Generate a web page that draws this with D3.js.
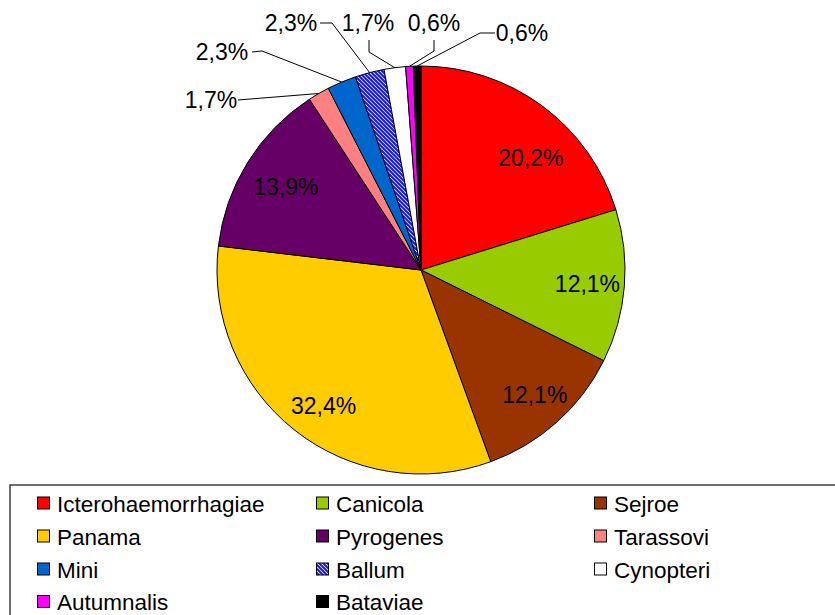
<!DOCTYPE html>
<html>
<head>
<meta charset="utf-8">
<script src="https://cdn.jsdelivr.net/npm/d3@7/dist/d3.min.js"></script>
<style>
  html, body { margin: 0; padding: 0; background: #fff; }
  svg { display: block; font-family: "Liberation Sans", Arial, sans-serif; }
</style>
</head>
<body>
<svg id="chart" width="835" height="615"></svg>
<script>
// Serovar shares (%)
const serovars = ["Icterohaemorrhagiae", "Canicola", "Sejroe", "Panama", "Pyrogenes",
                  "Tarassovi", "Mini", "Ballum", "Cynopteri", "Autumnalis", "Bataviae"];
const shares = [20.2, 12.1, 12.1, 32.4, 13.9, 1.7, 2.3, 2.3, 1.7, 0.6, 0.6];
const fills = ["#FF0000", "#99CC00", "#993300", "#FFCC00", "#660066",
               "#FF8080", "#0066CC", "url(#hatch)", "#FFFFFF", "#FF00FF", "#000000"];

// Label placement: large slices get inside labels, small ones get callouts
const insideLabels = [
  { i: 0, r: 157, shift: 8 },
  { i: 1, r: 167, shift: 0 },
  { i: 2, r: 169, shift: -0.5 },
  { i: 3, r: 167, shift: -2.7 },
  { i: 4, r: 159, shift: 0 }
];
const calloutLabels = [
  { i: 5,  text: [211, 100], path: [[238, 100]] },
  { i: 6,  text: [222, 52],  path: [[252, 52], [262, 51]] },
  { i: 7,  text: [291, 23],  path: [[320, 23], [332, 23]] },
  { i: 8,  text: [368, 23],  path: [[369, 40], [369, 52]] },
  { i: 9,  text: [434, 23],  path: [[434, 40], [434, 51]] },
  { i: 10, text: [522, 33],  path: [[495, 33], [480, 33]] }
];

const svg = d3.select("#chart");
const cx = 421, cy = 270, radius = 204;

// Diagonal hatch for Ballum
const defs = svg.append("defs");
const pat = defs.append("pattern")
  .attr("id", "hatch")
  .attr("patternUnits", "userSpaceOnUse")
  .attr("width", 4).attr("height", 4);
pat.append("rect").attr("width", 4).attr("height", 4).attr("fill", "#fff");
pat.append("path")
  .attr("d", "M-1,-1 L5,5 M-1,3 L1,5 M3,-1 L5,1")
  .attr("stroke", "#1414F5").attr("stroke-width", 2);

const fmt = v => v.toFixed(1).replace(".", ",") + "%";

const pie = d3.pie().sort(null).value(d => d);
const arcs = pie(shares);
const arc = d3.arc().innerRadius(0).outerRadius(radius);

const g = svg.append("g").attr("transform", `translate(${cx},${cy})`);
g.selectAll("path.slice")
  .data(arcs)
  .join("path")
  .attr("class", "slice")
  .attr("d", arc)
  .attr("fill", (d, i) => fills[i])
  .attr("stroke", "#000")
  .attr("stroke-width", 1)
  .attr("stroke-linejoin", "round");

// Inside labels
insideLabels.forEach(L => {
  const a = arcs[L.i];
  const mid = (a.startAngle + a.endAngle) / 2 + L.shift * Math.PI / 180;
  g.append("text")
    .attr("x", L.r * Math.sin(mid))
    .attr("y", -L.r * Math.cos(mid))
    .attr("dy", "0.36em")
    .attr("text-anchor", "middle")
    .attr("font-size", 23)
    .attr("fill", "#000")
    .text(fmt(shares[L.i]));
});

// Callout labels with leader lines
calloutLabels.forEach(L => {
  const a = arcs[L.i];
  const mid = (a.startAngle + a.endAngle) / 2;
  const anchor = [cx + radius * Math.sin(mid), cy - radius * Math.cos(mid)];
  const pts = L.path.concat([anchor]);
  svg.append("path")
    .attr("d", d3.line()(pts))
    .attr("fill", "none")
    .attr("stroke", "#000")
    .attr("stroke-width", 1);
  svg.append("text")
    .attr("x", L.text[0])
    .attr("y", L.text[1])
    .attr("dy", "0.36em")
    .attr("text-anchor", "middle")
    .attr("font-size", 23)
    .attr("fill", "#000")
    .text(fmt(shares[L.i]));
});

// Legend
svg.append("rect")
  .attr("x", 10).attr("y", 485)
  .attr("width", 840).attr("height", 150)
  .attr("fill", "#fff")
  .attr("stroke", "#404040")
  .attr("stroke-width", 1.5);

const colX = [37, 316, 594];
const rowY = [503.5, 536.5, 569.5, 602];
const lg = svg.append("g");
serovars.forEach((name, i) => {
  const x = colX[i % 3], y = rowY[Math.floor(i / 3)];
  lg.append("rect")
    .attr("x", x + 0.5).attr("y", y - 6.5)
    .attr("width", 12).attr("height", 12)
    .attr("fill", fills[i])
    .attr("stroke", "#000")
    .attr("stroke-width", 1);
  lg.append("text")
    .attr("x", x + 20)
    .attr("y", y)
    .attr("dy", "0.36em")
    .attr("font-size", 22.5)
    .attr("fill", "#000")
    .text(name);
});
</script>
</body>
</html>
